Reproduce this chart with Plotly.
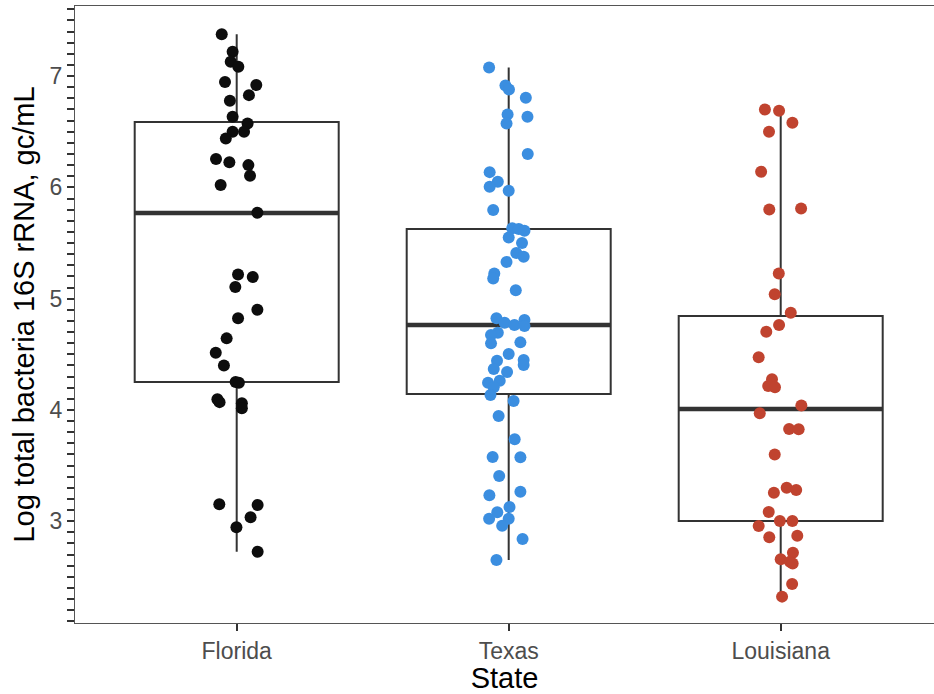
import plotly.graph_objects as go

# ---------------- data ----------------
states = ["Florida", "Texas", "Louisiana"]
colors = ["#0d0d0d", "#3b8ee0", "#c0432f"]

# box statistics
box_q1 = [4.25, 4.143, 3.002]
box_median = [5.769, 4.763, 4.008]
box_q3 = [6.587, 5.625, 4.844]
box_lower = [2.726, 2.651, 2.322]
box_upper = [7.377, 7.078, 6.70]

# observations (log values) and their horizontal jitter (category units)
florida_vals = [7.377, 7.218, 7.128, 7.084, 6.946, 6.919, 6.829, 6.778, 6.634, 6.575,
                6.50, 6.50, 6.44, 6.254, 6.225, 6.20, 6.104, 6.021, 5.772, 5.218,
                5.194, 5.104, 4.90, 4.823, 4.643, 4.514, 4.40, 4.25, 4.245, 4.095,
                4.07, 4.06, 4.015, 3.152, 3.146, 3.035, 2.945, 2.726]
florida_jit = [-0.055, -0.015, -0.022, 0.006, -0.043, 0.072, 0.045, -0.025, -0.015, 0.040,
               -0.015, 0.027, -0.040, -0.076, -0.027, 0.043, 0.049, -0.059, 0.076, 0.005,
               0.059, -0.005, 0.076, 0.005, -0.037, -0.077, -0.047, -0.004, 0.008, -0.071,
               -0.063, 0.019, 0.019, -0.064, 0.077, 0.051, -0.001, 0.077]

texas_vals = [7.078, 6.916, 6.88, 6.805, 6.656, 6.634, 6.575, 6.30, 6.137, 6.05,
              6.005, 5.969, 5.796, 5.632, 5.625, 5.61, 5.55, 5.50, 5.41, 5.376,
              5.33, 5.227, 5.182, 5.075, 4.823, 4.784, 4.763, 4.808, 4.754, 4.694,
              4.673, 4.598, 4.607, 4.502, 4.442, 4.448, 4.403, 4.367, 4.34, 4.262,
              4.244, 4.203, 4.134, 4.08, 3.945, 3.736, 3.577, 3.574, 3.406, 3.233,
              3.265, 3.128, 3.08, 3.022, 3.022, 2.96, 2.84, 2.651]
texas_jit = [-0.072, -0.012, 0.001, 0.063, -0.004, 0.069, -0.008, 0.070, -0.070, -0.040,
             -0.070, 0.0, -0.057, 0.013, 0.037, 0.058, 0.0, 0.049, 0.028, 0.055,
             -0.008, -0.053, -0.057, 0.026, -0.045, -0.015, 0.021, 0.058, 0.058, -0.040,
             -0.065, -0.065, 0.043, 0.0, -0.043, 0.055, 0.055, -0.055, -0.006, -0.033,
             -0.076, -0.055, -0.067, 0.018, -0.037, 0.022, -0.059, 0.043, -0.035, -0.071,
             0.043, 0.003, -0.042, -0.072, 0.0, -0.024, 0.051, -0.045]

louisiana_vals = [6.70, 6.688, 6.58, 6.50, 6.14, 5.802, 5.81, 5.227, 5.039, 4.873,
                  4.763, 4.703, 4.473, 4.275, 4.215, 4.203, 4.04, 3.969, 3.828, 3.826,
                  3.60, 3.30, 3.28, 3.256, 3.083, 3.002, 3.002, 2.957, 2.856, 2.87,
                  2.717, 2.657, 2.636, 2.62, 2.436, 2.322]
louisiana_jit = [-0.058, -0.006, 0.043, -0.043, -0.072, -0.042, 0.075, -0.007, -0.022, 0.037,
                 -0.006, -0.053, -0.081, -0.032, -0.046, -0.021, 0.076, -0.077, 0.031, 0.066,
                 -0.022, 0.022, 0.057, -0.025, -0.044, -0.003, 0.043, -0.081, -0.042, 0.061,
                 0.045, 0.0, 0.034, 0.044, 0.042, 0.005]

values = [florida_vals, texas_vals, louisiana_vals]
jitters = [florida_jit, texas_jit, louisiana_jit]

y_ticks = [3, 4, 5, 6, 7]

# ---------------- figure ----------------
BOX_W = 0.75
FONT = "Liberation Sans, Arial, sans-serif"
fig = go.Figure()

for i, st in enumerate(states):
    xpos = i + 1
    fig.add_trace(go.Box(
        x=[xpos], q1=[box_q1[i]], median=[box_median[i]], q3=[box_q3[i]],
        lowerfence=[box_lower[i]], upperfence=[box_upper[i]],
        width=BOX_W, whiskerwidth=0, boxpoints=False,
        fillcolor="white", line=dict(color="#333333", width=2),
        showlegend=False, hoverinfo="skip"))
    fig.add_trace(go.Scatter(
        x=[xpos - BOX_W / 2, xpos + BOX_W / 2], y=[box_median[i]] * 2,
        mode="lines", line=dict(color="#333333", width=4.5),
        showlegend=False, hoverinfo="skip"))

for i, st in enumerate(states):
    xpos = i + 1
    fig.add_trace(go.Scatter(
        x=[xpos + j for j in jitters[i]], y=values[i], mode="markers",
        marker=dict(size=12, color=colors[i], line=dict(width=0)),
        name=st, showlegend=False))

fig.update_layout(
    width=934, height=694,
    margin=dict(l=75, r=0, t=6, b=71),
    paper_bgcolor="white", plot_bgcolor="white",
    font=dict(family=FONT),
    xaxis=dict(
        range=[0.4055, 3.5636], tickvals=[1, 2, 3], ticktext=states,
        showline=True, linecolor="#555555", linewidth=1.3, mirror=True,
        ticks="outside", ticklen=7, tickwidth=1.5, tickcolor="#333333",
        showgrid=False, zeroline=False,
        tickfont=dict(size=23, color="#4d4d4d", family=FONT),
        title=dict(text="State", font=dict(size=29, color="black", family=FONT), standoff=6),
        automargin=False),
    yaxis=dict(
        range=[2.085, 7.63], tickvals=y_ticks,
        showline=True, linecolor="#555555", linewidth=1.3,
        ticks="outside", ticklen=7, tickwidth=1.5, tickcolor="#333333",
        minor=dict(dtick=0.1, ticks="outside", ticklen=7, tickwidth=1.5, tickcolor="#333333", showgrid=False),
        showgrid=False, zeroline=False,
        tickfont=dict(size=23, color="#4d4d4d", family=FONT),
        title=dict(text="Log total bacteria 16S rRNA, gc/mL", font=dict(size=29, color="black", family=FONT), standoff=6),
        automargin=False),
)

fig.write_html("out.html")
